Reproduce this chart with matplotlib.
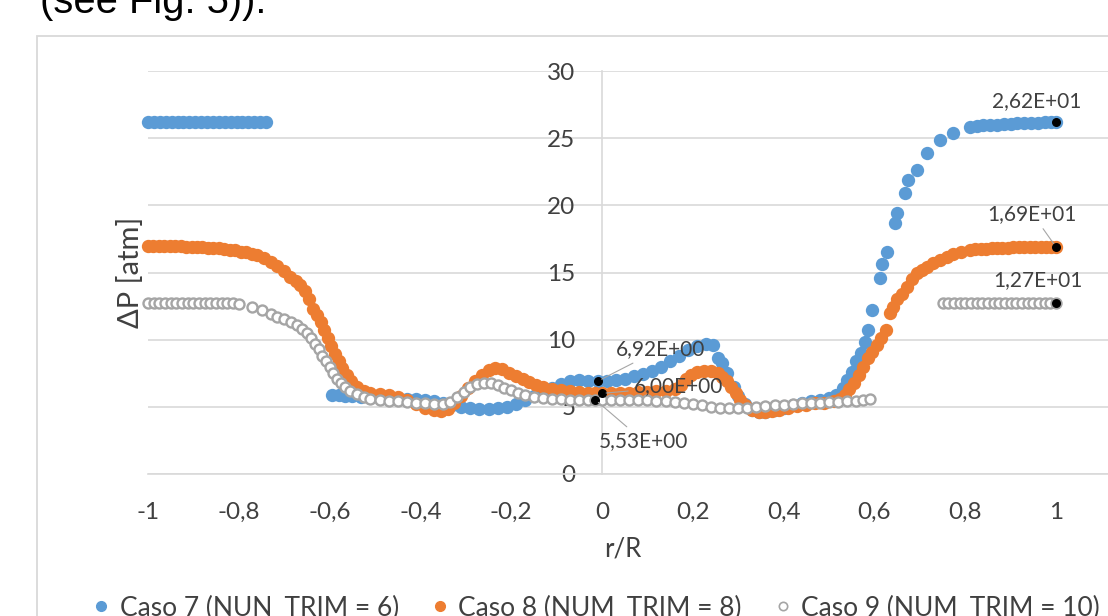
import matplotlib
matplotlib.use("Agg")
import matplotlib.pyplot as plt
from matplotlib.patches import Rectangle
from matplotlib.lines import Line2D

plt.rcParams['font.family'] = ['Lato', 'DejaVu Sans']

# ---------------- data ----------------
caso7_x = [-1.00, -0.987, -0.974, -0.961, -0.948, -0.935, -0.922, -0.909, -0.896, -0.883, -0.870, -0.857,
           -0.844, -0.831, -0.818, -0.805, -0.792, -0.779, -0.766, -0.753, -0.74,
           -0.595, -0.58, -0.565, -0.55, -0.53, -0.51, -0.49, -0.47, -0.45, -0.43, -0.41, -0.39, -0.37, -0.35,
           -0.33, -0.31, -0.29, -0.27, -0.25, -0.23, -0.21, -0.19, -0.17, -0.15, -0.13, -0.11, -0.09, -0.07,
           -0.05, -0.03, -0.009, 0.01, 0.03, 0.05, 0.07, 0.09, 0.11, 0.13, 0.15, 0.17, 0.19, 0.21, 0.23,
           0.245, 0.255, 0.265, 0.275, 0.29, 0.30, 0.315, 0.33, 0.345, 0.36, 0.38, 0.40, 0.42, 0.44, 0.46,
           0.48, 0.50, 0.515, 0.53, 0.54, 0.55, 0.56, 0.57, 0.58, 0.585, 0.595, 0.612, 0.617, 0.628, 0.645,
           0.65, 0.667, 0.674, 0.694, 0.716, 0.744, 0.773, 0.81, 0.825, 0.84, 0.855, 0.87, 0.885, 0.90,
           0.915, 0.93, 0.945, 0.96, 0.975, 0.99, 1.00]
caso7_y = [26.2, 26.2, 26.2, 26.2, 26.2, 26.2, 26.2, 26.2, 26.2, 26.2, 26.2, 26.2,
           26.2, 26.2, 26.2, 26.2, 26.2, 26.2, 26.2, 26.2, 26.2,
           5.9, 5.85, 5.8, 5.8, 5.75, 5.75, 5.7, 5.7, 5.65, 5.6, 5.55, 5.5, 5.45, 5.3,
           5.15, 5.0, 4.9, 4.85, 4.85, 4.9, 5.0, 5.2, 5.5, 5.8, 6.1, 6.4, 6.7, 6.9,
           7.0, 6.95, 6.92, 6.95, 7.0, 7.1, 7.3, 7.45, 7.7, 8.0, 8.4, 8.8, 9.2, 9.5, 9.7,
           9.6, 8.6, 8.3, 7.5, 6.5, 5.8, 5.2, 4.8, 4.6, 4.6, 4.75, 4.95, 5.1, 5.25, 5.4,
           5.5, 5.65, 5.9, 6.4, 7.0, 7.6, 8.4, 9.0, 9.8, 10.7, 12.2, 14.6, 15.6, 16.5, 18.7,
           19.4, 20.9, 21.9, 22.6, 23.9, 24.9, 25.4, 25.8, 25.9, 25.95, 26.0, 26.0, 26.05, 26.05,
           26.1, 26.1, 26.15, 26.15, 26.2, 26.2, 26.2]

caso8_x = [-1.00, -0.988, -0.976, -0.964, -0.952, -0.94, -0.928, -0.916, -0.904, -0.892, -0.88, -0.868,
           -0.856, -0.844, -0.832, -0.82, -0.808, -0.796, -0.784, -0.772, -0.76, -0.745,
           -0.73, -0.716, -0.70, -0.687, -0.675, -0.665, -0.655, -0.645, -0.636, -0.628, -0.62, -0.612, -0.604,
           -0.596, -0.588, -0.58, -0.572, -0.562, -0.552, -0.54, -0.525, -0.51, -0.49, -0.47, -0.45, -0.43,
           -0.41, -0.39, -0.37, -0.355, -0.34, -0.325, -0.31, -0.295, -0.28, -0.265, -0.25, -0.235, -0.22,
           -0.205, -0.19, -0.175, -0.16, -0.145, -0.13, -0.11, -0.09, -0.07, -0.05, -0.03, -0.015, 0.0,
           0.02, 0.04, 0.06, 0.08, 0.10, 0.12, 0.14, 0.16, 0.175, 0.185, 0.195, 0.21, 0.225, 0.24, 0.255,
           0.265, 0.275, 0.285, 0.295, 0.305, 0.315, 0.33, 0.345, 0.36, 0.375, 0.39, 0.41, 0.43, 0.45, 0.47,
           0.49, 0.51, 0.525, 0.535, 0.545, 0.555, 0.565, 0.575, 0.585, 0.595, 0.605, 0.615, 0.625, 0.634,
           0.64, 0.65, 0.66, 0.672, 0.683, 0.694, 0.705, 0.716, 0.73, 0.744, 0.76, 0.773, 0.79,
           0.81, 0.822, 0.834, 0.846, 0.858, 0.87, 0.882, 0.894, 0.906, 0.918, 0.93, 0.942, 0.954, 0.966,
           0.978, 0.99, 1.00]
caso8_y = [17.0, 17.0, 17.0, 17.0, 16.95, 16.95, 16.95, 16.9, 16.9, 16.9, 16.9, 16.85,
           16.85, 16.8, 16.75, 16.7, 16.65, 16.55, 16.5, 16.4, 16.3, 16.1,
           15.8, 15.5, 15.1, 14.7, 14.4, 14.1, 13.6, 13.0, 12.3, 11.8, 11.3, 10.7, 10.1,
           9.5, 8.9, 8.4, 7.9, 7.4, 6.9, 6.5, 6.2, 6.05, 5.95, 5.85, 5.7, 5.5,
           5.2, 4.95, 4.75, 4.7, 4.85, 5.3, 5.8, 6.4, 6.9, 7.4, 7.75, 7.9, 7.8,
           7.55, 7.3, 7.05, 6.85, 6.65, 6.5, 6.35, 6.25, 6.15, 6.1, 6.05, 6.0, 6.0,
           6.0, 6.05, 6.05, 6.1, 6.1, 6.15, 6.2, 6.3, 6.6, 7.1, 7.4, 7.6, 7.7, 7.7, 7.5,
           7.2, 6.9, 6.5, 6.0, 5.5, 5.1, 4.8, 4.65, 4.6, 4.7, 4.8, 4.95, 5.05, 5.15, 5.25,
           5.3, 5.4, 5.6, 5.9, 6.3, 6.8, 7.4, 8.0, 8.6, 9.1, 9.6, 10.1, 10.7, 12.0,
           12.4, 13.0, 13.4, 13.9, 14.5, 15.0, 15.2, 15.4, 15.7, 15.9, 16.15, 16.35, 16.55,
           16.7, 16.72, 16.75, 16.78, 16.8, 16.82, 16.85, 16.85, 16.87, 16.88, 16.9, 16.9, 16.9, 16.9,
           16.9, 16.9, 16.9]

caso9_x = [-1.00, -0.9875, -0.975, -0.9625, -0.95, -0.9375, -0.925, -0.9125, -0.90, -0.8875, -0.875,
           -0.8625, -0.85, -0.8375, -0.825, -0.8125, -0.80, -0.77, -0.75,
           -0.73, -0.715, -0.70, -0.685, -0.672, -0.66, -0.65, -0.64, -0.632, -0.624, -0.616, -0.608, -0.60,
           -0.592, -0.584, -0.575, -0.565, -0.555, -0.54, -0.525, -0.51, -0.49, -0.47, -0.45, -0.43, -0.41,
           -0.39, -0.37, -0.35, -0.335, -0.32, -0.305, -0.29, -0.275, -0.26, -0.245, -0.23, -0.215, -0.20,
           -0.185, -0.17, -0.15, -0.13, -0.11, -0.09, -0.07, -0.05, -0.03, -0.015, 0.0, 0.02, 0.04, 0.06,
           0.08, 0.10, 0.12, 0.14, 0.16, 0.18, 0.20, 0.22, 0.24, 0.26, 0.28, 0.30, 0.32, 0.34, 0.36, 0.38,
           0.40, 0.42, 0.44, 0.46, 0.48, 0.50, 0.52, 0.54, 0.56, 0.575, 0.59,
           0.75, 0.7625, 0.775, 0.7875, 0.80, 0.8125, 0.825, 0.8375, 0.85, 0.8625, 0.875, 0.8875, 0.90,
           0.9125, 0.925, 0.9375, 0.95, 0.9625, 0.975, 0.9875, 1.00]
caso9_y = [12.75, 12.75, 12.75, 12.75, 12.75, 12.75, 12.75, 12.75, 12.7, 12.7, 12.7,
           12.7, 12.7, 12.7, 12.7, 12.7, 12.65, 12.45, 12.2,
           11.9, 11.7, 11.55, 11.35, 11.1, 10.8, 10.5, 10.1, 9.7, 9.3, 8.8, 8.4, 8.0,
           7.5, 7.1, 6.8, 6.5, 6.2, 5.95, 5.75, 5.6, 5.5, 5.45, 5.4, 5.35, 5.3,
           5.25, 5.2, 5.2, 5.35, 5.7, 6.1, 6.45, 6.7, 6.8, 6.75, 6.6, 6.4, 6.25,
           6.05, 5.9, 5.75, 5.65, 5.6, 5.55, 5.5, 5.5, 5.5, 5.53, 5.5, 5.5, 5.5, 5.5,
           5.5, 5.5, 5.45, 5.4, 5.35, 5.3, 5.2, 5.1, 5.0, 4.95, 4.9, 4.9, 4.95, 5.0, 5.05, 5.1,
           5.15, 5.2, 5.25, 5.3, 5.3, 5.35, 5.35, 5.4, 5.45, 5.5, 5.6,
           12.7, 12.7, 12.7, 12.7, 12.7, 12.7, 12.7, 12.7, 12.7, 12.7, 12.7, 12.7, 12.7,
           12.7, 12.7, 12.7, 12.7, 12.7, 12.7, 12.7, 12.7]

series_labels = ["Caso 7 (NUN_TRIM = 6)", "Caso 8 (NUM_TRIM = 8)", "Caso 9 (NUM_TRIM = 10)"]

# labelled points (black markers with data labels)
label_x = [-0.009, 0.0, -0.015, 1.00, 1.00, 1.00]
label_y = [6.92, 6.00, 5.53, 26.2, 16.9, 12.7]
label_txt = ["6,92E+00", "6,00E+00", "5,53E+00", "2,62E+01", "1,69E+01", "1,27E+01"]

x_ticks = [-1, -0.8, -0.6, -0.4, -0.2, 0, 0.2, 0.4, 0.6, 0.8, 1]
x_ticklabels = ["-1", "-0,8", "-0,6", "-0,4", "-0,2", "0", "0,2", "0,4", "0,6", "0,8", "1"]
y_ticks = [0, 5, 10, 15, 20, 25, 30]

# ---------------- styles ----------------
W, H = 1108, 616
BLUE, ORANGE, GRAY = "#5B9BD5", "#ED7D31", "#A5A5A5"
GRID = "#D9D9D9"
TXT = "#404040"

fig = plt.figure(figsize=(W / 100, H / 100), dpi=100)
fig.patch.set_facecolor("white")

# page text above the chart (cut off)
fig.text(40 / W, 1 - 13 / H, "(see Fig. 5)).", fontsize=28.8, family=["Liberation Sans"],
         color="black", va="baseline", ha="left")

# chart border
fig.patches.append(Rectangle((37 / W, -0.1), 1.2, 1 - 36 / H + 0.1, transform=fig.transFigure,
                             fill=False, edgecolor=GRID, lw=1.3))

x0, x1 = -1.0, 1.2
px_left, px_per_unit = 148, 454
ax_w_px = (x1 - x0) * px_per_unit
ax = fig.add_axes([px_left / W, (H - 474) / H, ax_w_px / W, 403 / H])
ax.set_xlim(x0, x1)
ax.set_ylim(0, 30)
ax.set_facecolor("none")

for s in ["top", "right"]:
    ax.spines[s].set_visible(False)
ax.spines["left"].set_position(("data", 0))
ax.spines["left"].set_color(GRID)
ax.spines["bottom"].set_color(GRID)
ax.spines["left"].set_linewidth(1.2)
ax.spines["bottom"].set_linewidth(1.2)

ax.set_yticks(y_ticks)
ax.set_xticks(x_ticks)
ax.set_xticklabels(x_ticklabels)
ax.tick_params(axis="both", length=0, labelsize=17.5, labelcolor=TXT)
ax.tick_params(axis="y", pad=19)
ax.tick_params(axis="x", pad=20)
ax.yaxis.grid(True, color=GRID, lw=1.2)
ax.set_axisbelow(True)

ax.scatter(caso7_x, caso7_y, s=92, color=BLUE, linewidths=0, zorder=3, clip_on=False, label=series_labels[0])
ax.scatter(caso8_x, caso8_y, s=92, color=ORANGE, linewidths=0, zorder=4, clip_on=False, label=series_labels[1])
ax.scatter(caso9_x, caso9_y, s=52, facecolors="white", edgecolors=GRAY, linewidths=1.7, zorder=5,
           clip_on=False, label=series_labels[2])

ax.scatter(label_x, label_y, s=30, color="black", zorder=6, clip_on=False)

offsets = [(45, 23), (55, 5), (35, -30), (-14, 15), (-17, 24), (-13, 17)]
leaders = [True, True, True, False, True, False]
for x, y, t, off, ld in zip(label_x, label_y, label_txt, offsets, leaders):
    kw = {}
    if ld:
        kw["arrowprops"] = dict(arrowstyle="-", color="#A6A6A6", lw=0.8, shrinkA=2, shrinkB=3)
    ax.annotate(t, (x, y), xytext=off, textcoords="offset points", ha="center", va="center",
                fontsize=15, color=TXT, zorder=7, **kw)

ax.set_xlabel("r/R", fontsize=18.5, color=TXT)
ax.xaxis.set_label_coords((623 - px_left) / ax_w_px, -(537 - 474) / 403)
ax.set_ylabel("ΔP [atm]", fontsize=21, color=TXT)
ax.yaxis.set_label_coords((144 - px_left) / ax_w_px, (474 - 272) / 403)

handles = [Line2D([], [], ls="", marker="o", ms=7, color=BLUE, mec=BLUE),
           Line2D([], [], ls="", marker="o", ms=7, color=ORANGE, mec=ORANGE),
           Line2D([], [], ls="", marker="o", ms=6, mfc="white", mec=GRAY, mew=1.2)]
fig.legend(handles, series_labels, loc="center left", bbox_to_anchor=(88 / W, 1 - 608 / H),
           ncol=3, frameon=False, fontsize=19, labelcolor=TXT, handletextpad=0.2,
           columnspacing=1.05, handlelength=1.0, borderaxespad=0, borderpad=0)

fig.savefig("out.png", dpi=100, facecolor="white")
